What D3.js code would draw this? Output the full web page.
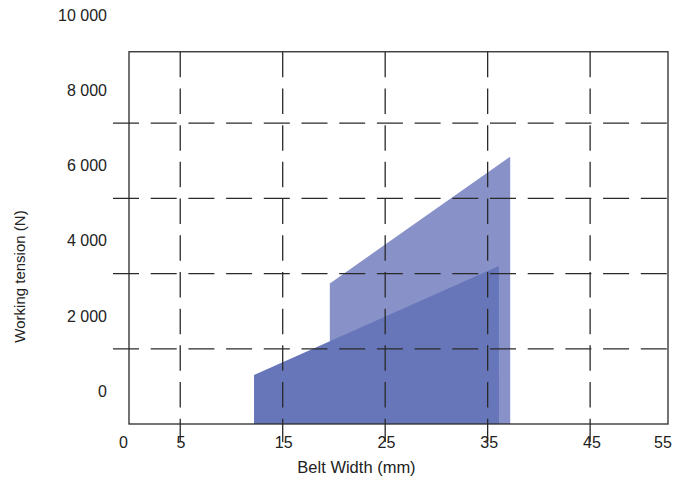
<!DOCTYPE html>
<html>
<head>
<meta charset="utf-8">
<script src="https://cdn.jsdelivr.net/npm/d3@7"></script>
<style>
  html, body { margin: 0; padding: 0; background: #fff; }
  svg { display: block; font-family: "Liberation Sans", Arial, sans-serif; }
</style>
</head>
<body>
<svg id="chart" width="675" height="481"></svg>
<script>
// ---- data ----
const xTickLabels = [0, 5, 15, 25, 35, 45, 55];
const yTickLabels = [0, 2000, 4000, 6000, 8000, 10000];
const xGridValues = [5, 15, 25, 35, 45];
const yGridValues = [2000, 4000, 6000, 8000];

// upper (light) range: belt width vs working tension
const lightWidth = [19.6, 37.2];
const lightTension = [3740, 7110];
// lower (dark) range
const darkWidth = [12.2, 36.1];
const darkTension = [1300, 4200];

const xTitle = "Belt Width (mm)";
const yTitle = "Working tension (N)";

// ---- layout ----
const svg = d3.select("#chart");
const x = d3.scaleLinear().domain([0, 52.6]).range([129, 668]);
const y = d3.scaleLinear().domain([0, 10000]).range([424, 48]);
const yTop = 9900;
// tick label placement scales (labels in the original sit offset from the grid)
const xLabel = d3.scaleLinear().domain([0, 5, 45, 55]).range([123.5, 181, 592, 663]);
const yLabel = d3.scaleLinear().domain([0, 10000]).range([391, 15]);

const fmt = d3.formatLocale({decimal: ".", thousands: " ", grouping: [3], currency: ["", ""]}).format(",");

const area = d3.area()
  .x(d => x(d.x))
  .y0(y(0))
  .y1(d => y(d.y));

const light = lightWidth.map((w, i) => ({x: w, y: lightTension[i]}));
const dark = darkWidth.map((w, i) => ({x: w, y: darkTension[i]}));

svg.append("path").datum(light).attr("d", area).attr("fill", "#8891c8");
svg.append("path").datum(dark).attr("d", area).attr("fill", "#6676b9");

// grid lines
svg.append("g").selectAll("line").data(yGridValues).join("line")
  .attr("x1", x(0) - 16).attr("x2", x(52.6))
  .attr("y1", d => y(d)).attr("y2", d => y(d))
  .attr("stroke", "#2a2a2a").attr("stroke-width", 1.3)
  .attr("stroke-dasharray", "26,11.7");

svg.append("g").selectAll("line").data(xGridValues).join("line")
  .attr("x1", d => x(d)).attr("x2", d => x(d))
  .attr("y1", y(yTop)).attr("y2", y(0) + 18)
  .attr("stroke", "#2a2a2a").attr("stroke-width", 1.3)
  .attr("stroke-dasharray", "25.5,11.2");

// frame
svg.append("rect")
  .attr("x", x(0)).attr("y", y(yTop))
  .attr("width", x(52.6) - x(0)).attr("height", y(0) - y(yTop))
  .attr("fill", "none").attr("stroke", "#2a2a2a").attr("stroke-width", 1.3);

// tick labels
svg.append("g").selectAll("text").data(yTickLabels).join("text")
  .attr("x", 107).attr("y", d => yLabel(d)).attr("dy", "0.36em")
  .attr("text-anchor", "end").attr("font-size", 16).attr("fill", "#222")
  .text(d => fmt(d));

svg.append("g").selectAll("text").data(xTickLabels).join("text")
  .attr("x", d => xLabel(d)).attr("y", y(0) + 24)
  .attr("text-anchor", "middle").attr("font-size", 16).attr("fill", "#222")
  .text(d => d);

// axis titles
svg.append("text")
  .attr("x", 356.5).attr("y", 473)
  .attr("text-anchor", "middle").attr("font-size", 16.5).attr("fill", "#222")
  .text(xTitle);

svg.append("text")
  .attr("transform", "translate(24.5,276.5) rotate(-90)")
  .attr("text-anchor", "middle").attr("font-size", 15).attr("fill", "#222")
  .text(yTitle);
</script>
</body>
</html>
